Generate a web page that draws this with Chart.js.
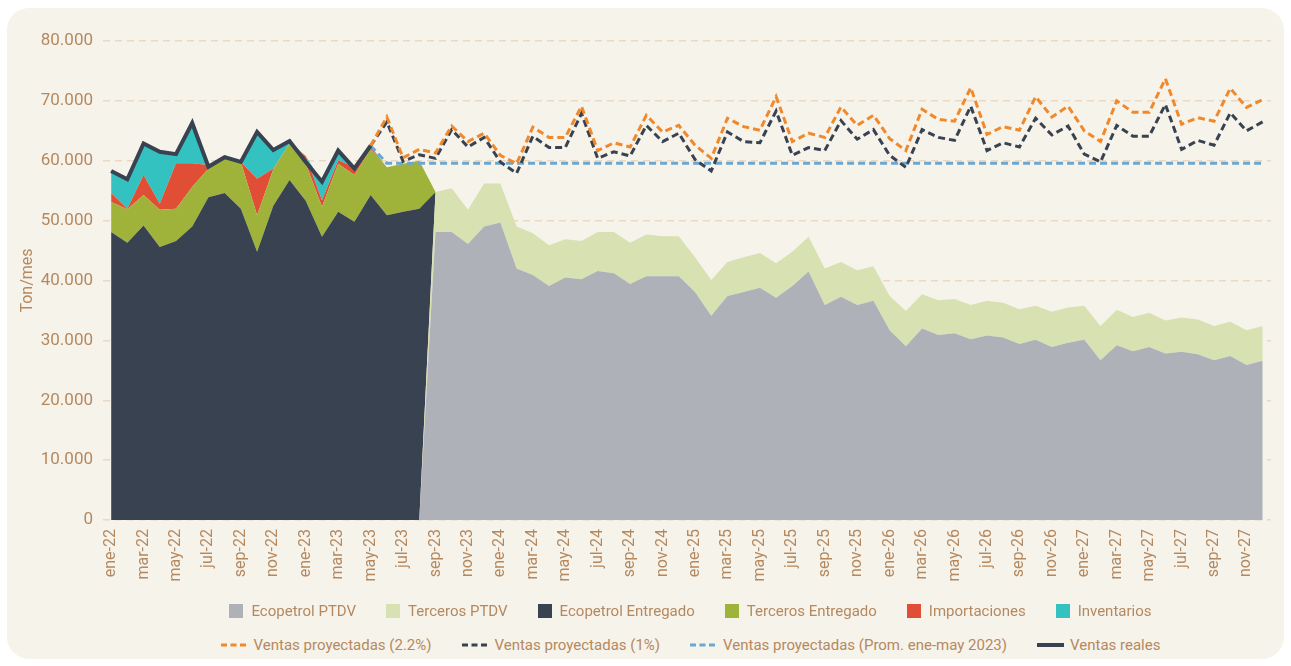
<!DOCTYPE html>
<html>
<head>
<meta charset="utf-8">
<script src="https://cdn.jsdelivr.net/npm/chart.js@4.4.0/dist/chart.umd.min.js"></script>
<style>
html,body{margin:0;padding:0;background:#ffffff;width:1291px;height:666px;overflow:hidden;}
#card{position:absolute;left:7px;top:8px;width:1277px;height:651px;background:#f6f3eb;border-radius:22px;}
#wrap{position:absolute;left:0;top:0;width:1291px;height:600px;}
.legend-row{position:absolute;left:103px;width:1175px;height:24px;display:flex;justify-content:center;align-items:center;
  font-family:"Roboto",sans-serif;font-size:15px;color:#b5895f;white-space:nowrap;}
.item{display:flex;align-items:center;margin:0 15px;}
.box{width:14px;height:14px;margin-right:8px;flex:none;}
.mk{margin-right:6px;flex:none;display:block;}
</style>
</head>
<body>
<div id="card"></div>
<div id="wrap"><canvas id="c" width="1291" height="600"></canvas></div>
<div class="legend-row" id="lg1" style="top:599px"></div>
<div class="legend-row" id="lg2" style="top:633px"></div>
<script>
// ---------- DATA ----------
const months = ["ene-22","feb-22","mar-22","abr-22","may-22","jun-22","jul-22","ago-22","sep-22","oct-22","nov-22","dic-22",
"ene-23","feb-23","mar-23","abr-23","may-23","jun-23","jul-23","ago-23","sep-23","oct-23","nov-23","dic-23",
"ene-24","feb-24","mar-24","abr-24","may-24","jun-24","jul-24","ago-24","sep-24","oct-24","nov-24","dic-24",
"ene-25","feb-25","mar-25","abr-25","may-25","jun-25","jul-25","ago-25","sep-25","oct-25","nov-25","dic-25",
"ene-26","feb-26","mar-26","abr-26","may-26","jun-26","jul-26","ago-26","sep-26","oct-26","nov-26","dic-26",
"ene-27","feb-27","mar-27","abr-27","may-27","jun-27","jul-27","ago-27","sep-27","oct-27","nov-27","dic-27"];

const yTicks = [0,10000,20000,30000,40000,50000,60000,70000,80000];

const ecopetrolPTDV = [0,0,0,0,0,0,0,0,0,0,0,0,0,0,0,0,0,0,0,0,
48100,48100,46100,49000,49700,42000,40900,39100,40500,40200,41600,41200,39400,40700,40700,40700,
38100,34100,37400,38100,38800,37100,39100,41500,35900,37300,35900,36600,
31700,29000,32000,30900,31200,30200,30800,30500,29400,30100,28900,29600,
30100,26700,29200,28200,28900,27800,28100,27700,26700,27400,25900,26600];

const tercerosPTDV = [0,0,0,0,0,0,0,0,0,0,0,0,0,0,0,0,0,0,0,0,
6700,7300,5700,7200,6500,7000,7000,6800,6400,6400,6500,6900,6900,7000,6700,6700,
5800,6000,5700,5800,5800,5800,5700,5800,6100,5800,5800,5800,
5700,5900,5700,5800,5700,5700,5800,5800,5800,5700,5900,5900,
5700,5700,5900,5700,5700,5500,5700,5800,5700,5700,5800,5800];

const ecopetrolEntregado = [48100,46300,49200,45600,46600,49000,53900,54600,52000,44800,52500,56800,
53300,47300,51500,49800,54300,50900,51500,52000,
0,0,0,0,0,0,0,0,0,0,0,0,0,0,0,0,0,0,0,0,0,0,0,0,0,0,0,0,0,0,0,0,0,0,0,0,0,0,0,0,0,0,0,0,0,0,0,0,0,0,0,0];

const tercerosEntregado = [5000,5600,5100,6200,5400,6600,4800,6300,7800,6100,6100,6100,
6200,5000,8000,7800,7600,8000,8000,8000,
0,0,0,0,0,0,0,0,0,0,0,0,0,0,0,0,0,0,0,0,0,0,0,0,0,0,0,0,0,0,0,0,0,0,0,0,0,0,0,0,0,0,0,0,0,0,0,0,0,0,0,0];

const importaciones = [1500,100,3300,1000,7600,4000,600,0,0,6100,100,0,
1300,1100,600,1300,300,0,0,0,
0,0,0,0,0,0,0,0,0,0,0,0,0,0,0,0,0,0,0,0,0,0,0,0,0,0,0,0,0,0,0,0,0,0,0,0,0,0,0,0,0,0,0,0,0,0,0,0,0,0,0,0];

const inventarios = [3400,4600,5300,8500,1400,6600,0,0,200,7800,3300,300,
0,3100,1400,0,300,0,0,0,
0,0,0,0,0,0,0,0,0,0,0,0,0,0,0,0,0,0,0,0,0,0,0,0,0,0,0,0,0,0,0,0,0,0,0,0,0,0,0,0,0,0,0,0,0,0,0,0,0,0,0,0];

const ventasReales = [58300,56900,62900,61500,61100,66300,59000,60600,59800,64800,61800,63300,
59800,56500,61700,58700,62500];

const ventasProy22 = [null,null,null,null,null,null,null,null,null,null,null,null,null,null,null,null,
62500,67300,60500,61900,61300,65800,63200,64600,
60900,59500,65600,63900,63900,69100,61700,63000,62300,67600,64800,65900,
62600,60400,67100,65700,65100,70700,63200,64600,63900,69000,65900,67600,
63700,61700,68600,66900,66600,72200,64400,65700,65100,70700,67300,69100,
65000,63200,70000,68100,68100,73700,66100,67200,66600,72100,68900,70200];

const ventasProy1 = [null,null,null,null,null,null,null,null,null,null,null,null,null,null,null,null,
62500,66500,59900,61000,60400,65200,62300,63900,
59800,57900,64100,62200,62200,67900,60400,61500,60800,65900,63200,64600,
60200,58300,64800,63200,63000,68300,60900,62200,61700,66700,63600,65200,
60900,58900,65200,63900,63400,69100,61700,63000,62300,67100,64300,65800,
61100,59800,65900,64100,64100,69400,61900,63400,62600,68000,65000,66500];

const ventasProm = [null,null,null,null,null,null,null,null,null,null,null,null,null,null,null,null,
62500,59600,59600,59600,59600,59600,59600,59600,
59600,59600,59600,59600,59600,59600,59600,59600,59600,59600,59600,59600,
59600,59600,59600,59600,59600,59600,59600,59600,59600,59600,59600,59600,
59600,59600,59600,59600,59600,59600,59600,59600,59600,59600,59600,59600,
59600,59600,59600,59600,59600,59600,59600,59600,59600,59600,59600,59600];

// ---------- STYLE ----------
const FONT = '"Roboto",sans-serif';
const TXT = '#b5895f';
const C = {
  gray:'#afb1b9', lgreen:'#d8e1b2', dark:'#394250', green:'#9fb23a', red:'#e04f35', teal:'#33c2bf',
  orange:'#f0892b', blue:'#6aa7d2'
};

const area = (label, data, color, fill) => ({
  type:'line', label, data, backgroundColor:color, borderColor:color, borderWidth:0,
  fill, pointRadius:0, pointHoverRadius:0, tension:0, stack:'areas', order:2
});
const dline = (label, data, color, stack) => ({
  type:'line', label, data, borderColor:color, backgroundColor:color, borderWidth:3,
  borderDash:[7,4], fill:false, pointRadius:0, pointHoverRadius:0, tension:0, stack, order:1,
  borderJoinStyle:'miter', borderCapStyle:'butt'
});

Chart.defaults.font.family = FONT;
Chart.defaults.color = TXT;

new Chart(document.getElementById('c'), {
  type:'line',
  data:{
    labels: months,
    datasets:[
      area('Ecopetrol PTDV', ecopetrolPTDV, C.gray, 'origin'),
      area('Terceros PTDV', tercerosPTDV, C.lgreen, '-1'),
      area('Ecopetrol Entregado', ecopetrolEntregado, C.dark, '-1'),
      area('Terceros Entregado', tercerosEntregado, C.green, '-1'),
      area('Importaciones', importaciones, C.red, '-1'),
      area('Inventarios', inventarios, C.teal, '-1'),
      dline('Ventas proyectadas (2.2%)', ventasProy22, C.orange, 's1'),
      dline('Ventas proyectadas (1%)', ventasProy1, C.dark, 's2'),
      dline('Ventas proyectadas (Prom. ene-may 2023)', ventasProm, C.blue, 's3'),
      {type:'line', label:'Ventas reales', data:ventasReales, borderColor:C.dark, backgroundColor:C.dark,
       borderWidth:4, fill:false, pointRadius:0, pointHoverRadius:0, tension:0, stack:'s4', order:0,
       borderJoinStyle:'miter'}
    ]
  },
  options:{
    responsive:false, animation:false, devicePixelRatio:1,
    layout:{padding:{top:41,right:13,bottom:10,left:0}},
    plugins:{legend:{display:false}, tooltip:{enabled:false}},
    scales:{
      x:{
        type:'category', offset:true,
        grid:{display:false, drawTicks:false},
        border:{display:false},
        ticks:{autoSkip:false, maxRotation:90, minRotation:90, padding:9, color:TXT,
          font:{size:16},
          callback:function(v,i){ return i % 2 === 0 ? months[i] : ''; }},
        afterFit:function(s){ s.height = 70; }
      },
      y:{
        stacked:true, min:0, max:80000,
        afterBuildTicks:function(s){ s.ticks = yTicks.map(v=>({value:v})); },
        grid:{color:'#ebd8c3', lineWidth:1.5, drawTicks:false},
        border:{display:false, dash:[7,5]},
        ticks:{padding:10, color:TXT, font:{size:17},
          callback:function(v){ return v === 0 ? '0' : (v/1000) + '.000'; }},
        title:{display:true, text:'Ton/mes', color:TXT, font:{size:16}, padding:{top:18,bottom:0}},
        afterFit:function(s){ s.width = 103; }
      }
    }
  }
});

// ---------- HTML LEGEND ----------
const legendAreas = [
  ['Ecopetrol PTDV', C.gray],['Terceros PTDV', C.lgreen],['Ecopetrol Entregado', C.dark],
  ['Terceros Entregado', C.green],['Importaciones', C.red],['Inventarios', C.teal]
];
const legendLines = [
  ['Ventas proyectadas (2.2%)', C.orange, true],['Ventas proyectadas (1%)', C.dark, true],
  ['Ventas proyectadas (Prom. ene-may 2023)', C.blue, true],['Ventas reales', C.dark, false]
];
const lg1 = document.getElementById('lg1');
legendAreas.forEach(([t,c])=>{
  const it=document.createElement('div'); it.className='item';
  it.innerHTML='<span class="box" style="background:'+c+'"></span><span>'+t+'</span>';
  lg1.appendChild(it);
});
const lg2 = document.getElementById('lg2');
legendLines.forEach(([t,c,d])=>{
  const it=document.createElement('div'); it.className='item';
  const sw = d ? 'stroke-width="3" stroke-dasharray="6 3.5"' : 'stroke-width="4"';
  it.innerHTML='<svg class="mk" width="27" height="6"><line x1="0" y1="3" x2="27" y2="3" stroke="'+c+'" '+sw+'/></svg><span>'+t+'</span>';
  lg2.appendChild(it);
});
</script>
</body>
</html>
